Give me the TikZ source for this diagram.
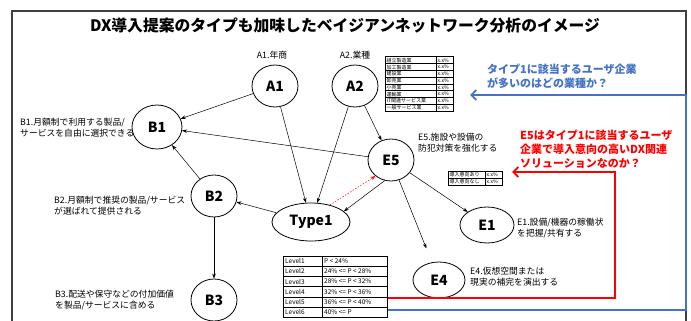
\documentclass[tikz,border=0pt]{standalone}
\usepackage{fontspec}
\setmainfont{Noto Sans CJK JP}
\usetikzlibrary{arrows.meta,shapes.geometric}
\definecolor{qblue}{HTML}{4472C4}
\definecolor{qred}{HTML}{FF0000}
\tikzset{
  circ/.style={ellipse, draw, line width=0.8pt, minimum width=46pt, minimum height=42pt, inner sep=0pt, font=\bfseries\fontsize{14}{14}\selectfont},
  lab/.style={font=\fontsize{8.8}{11}\selectfont, align=left, anchor=west, inner sep=0pt},
  toplab/.style={font=\fontsize{8.8}{11}\selectfont, inner sep=0pt},
  arr/.style={-{Stealth[length=5pt,width=3.6pt]}, line width=0.5pt},
  cell/.style={font=\fontsize{5}{5}\selectfont, anchor=west, inner sep=0pt},
  lcell/.style={font=\fontsize{6.5}{6.5}\selectfont, anchor=west, inner sep=0pt},
  bigarrow/.style={line width=1.8pt, -{Straight Barb[length=5pt,width=10pt]}},
  question/.style={font=\bfseries\fontsize{11}{14}\selectfont, align=left, anchor=west, inner sep=0pt},
}
\begin{document}
\begin{tikzpicture}[x=1pt,y=-1pt]
\useasboundingbox (0,0) rectangle (691,321);
\fill[white] (0,0) rectangle (691,321);
% frame
\draw[line width=1.2pt, black!75] (12,11) rectangle (686,340);
% title
\node[font=\bfseries\fontsize{15.8}{16}\selectfont] (title) at (345,25) {DX導入提案のタイプも加味したベイジアンネットワーク分析のイメージ};

% nodes
\node[circ] (A1) at (275,86) {A1};
\node[circ] (A2) at (355,86) {A2};
\node[circ, minimum width=50pt, minimum height=44pt] (B1) at (157,127) {B1};
\node[circ] (B2) at (214,196) {B2};
\node[circ] (B3) at (214,300) {B3};
\node[circ, minimum width=78pt, minimum height=38pt] (T) at (311,222) {Type1};
\node[circ] (E5) at (391,160) {E5};
\node[circ, minimum width=54pt, minimum height=36pt] (E1) at (487,225) {E1};
\node[circ, minimum width=52pt, minimum height=36pt] (E4) at (439,280) {E4};

% labels
\node[toplab] (lA1) at (272,55) {A1.年商};
\node[toplab] (lA2) at (355,55) {A2.業種};
\node[lab] (lB1) at (20,128) {B1.月額制で利用する製品/\\サービスを自由に選択できる};
\node[lab] (lB2) at (54,206) {B2.月額制で推奨の製品/サービス\\が選ばれて提供される};
\node[lab] (lB3) at (55,300) {B3.配送や保守などの付加価値\\を製品/サービスに含める};
\node[lab] (lE5) at (418,143) {E5.施設や設備の\\防犯対策を強化する};
\node[lab] (lE1) at (517,228) {E1.設備/機器の稼働状\\を把握/共有する};
\node[lab] (lE4) at (470,277) {E4.仮想空間または\\現実の補完を演出する};

% industry table
\foreach \i/\t in {1/組立製造業,2/加工製造業,3/建設業,4/卸売業,5/小売業,6/運輸業,7/IT関連サービス業,8/一般サービス業} {
  \node[cell] (ind\i) at (386.5,{57+(\i-0.5)*6.75}) {\t};
  \node[cell] (indv\i) at (437.5,{57+(\i-0.5)*6.75}) {x.x\%};
  \draw[line width=0.5pt] (385,{57+\i*6.75}) -- (453,{57+\i*6.75});
}
\draw[line width=0.5pt] (436,57) -- (436,111);
\draw[line width=1pt] (385,57) rectangle (453,111);

% E5 table
\node[cell] (ea) at (449.5,174.5) {導入意向あり};
\node[cell] (eb) at (449.5,181.5) {導入意向なし};
\node[cell] (eav) at (486.5,174.5) {x.x\%};
\node[cell] (ebv) at (486.5,181.5) {x.x\%};
\draw[line width=0.5pt] (448,178) -- (502,178) (485,171) -- (485,185);
\draw[line width=1pt] (448,171) rectangle (502,185);

% level table
\foreach \i/\t in {1/P < 24\%,2/24\% <= P < 28\%,3/28\% <= P < 32\%,4/32\% <= P < 36\%,5/36\% <= P < 40\%,6/40\% <= P} {
  \node[lcell] (lv\i) at (285,{256+(\i-0.5)*10.2}) {Level\i};
  \node[lcell] (lvv\i) at (324,{256+(\i-0.5)*10.2}) {\t};
  \draw[line width=0.5pt] (283,{256+\i*10.2}) -- (387,{256+\i*10.2});
}
\draw[line width=0.5pt] (322,256) -- (322,317.2);
\draw[line width=1pt] (283,256) rectangle (387,317.2);

% edges
\draw[arr] (A1) -- (B1);
\draw[arr] (E5) -- (B1);
\draw[arr] (B2) -- (B1);
\draw[arr] (A1) -- (T);
\draw[arr] (A2) -- (T);
\draw[arr] (A2) -- (E5);
\draw[arr] (T) -- (B2);
\draw[arr] (E5.253) -- (T.18);
\draw[arr, qred, dashed, dash pattern=on 1.5pt off 1.5pt] (T.42) -- (E5.226);
\draw[arr] (E5) -- (E1);
\draw[arr, shorten >=15pt] (E5) -- (E4);
\draw[arr] (B2) -- (B3);

% questions
\node[question, text=qblue] (qb) at (487,76) {タイプ1に該当するユーザ企業\\が多いのはどの業種か？};
\node[question, text=qred] (qr) at (520,149) {E5はタイプ1に該当するユーザ\\企業で導入意向の高いDX関連\\ソリューションなのか？};

% long arrows
\coordinate (rs) at (388,298);
\coordinate (rc1) at (615,298);
\coordinate (rc2) at (615,172);
\coordinate (re) at (512,172);
\draw[bigarrow, qred] (rs) -- (rc1) -- (rc2) -- (re);
\coordinate (bs) at (388,310);
\coordinate (bc1) at (686,310);
\coordinate (bc2) at (686,95);
\coordinate (be) at (470,95);
\draw[bigarrow, qblue] (bs) -- (bc1) -- (bc2) -- (be);
\end{tikzpicture}
\end{document}
